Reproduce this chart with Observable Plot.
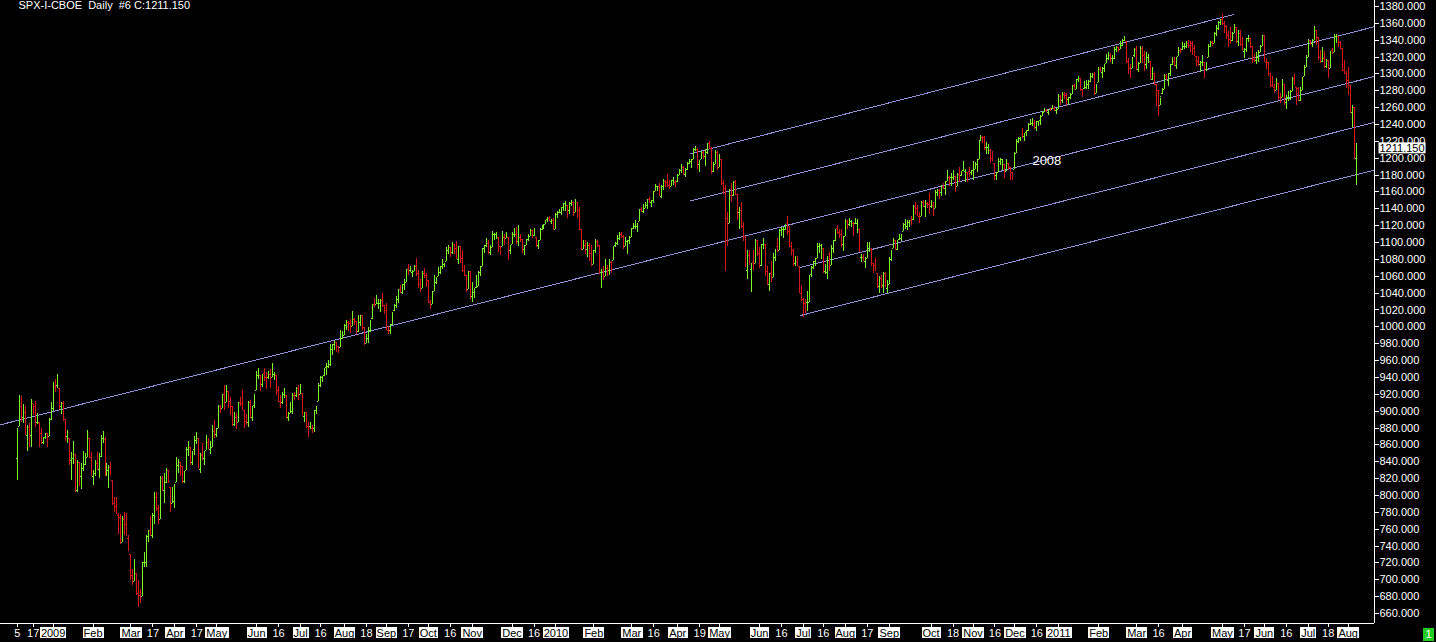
<!DOCTYPE html>
<html><head><meta charset="utf-8">
<script src="https://cdn.jsdelivr.net/npm/d3@7"></script>
<script src="https://cdn.jsdelivr.net/npm/@observablehq/plot@0.6"></script>
<style>
html,body{margin:0;padding:0;background:#000;}
#wrap{position:relative;width:1436px;height:642px;overflow:hidden;background:#000;}
#badge{position:absolute;left:1423px;top:628px;width:11px;height:13px;background:#22cc22;color:#fff;font:11px "Liberation Sans",Arial,sans-serif;text-align:center;line-height:13px;}
</style></head><body><div id="wrap"><div id="badge">1</div></div>
<script>
// Daily OHLC bars: [month-day, open, high, low, close]
const bars2008 = [
["12-05",844,879,818,876],["12-08",882,918,882,909],["12-09",906,917,888,888],["12-10",892,908,885,899],["12-11",898,905,871,873],["12-12",871,883,852,880],["12-15",881,885,857,869],["12-16",871,914,857,913],["12-17",909,908,895,904],["12-18",905,911,881,885],["12-19",886,897,884,888],["12-22",887,887,857,871],["12-23",874,880,860,863],["12-24",863,869,861,869],["12-26",869,874,866,873],["12-29",873,874,857,870],["12-30",870,891,870,890],["12-31",890,910,889,903]
];
const bars2009 = [
["01-02",903,934,899,932],["01-05",929,937,922,927],["01-06",931,944,927,935],["01-07",927,927,902,907],["01-08",905,910,896,910],["01-09",909,912,888,891],["01-12",890,890,864,871],["01-13",870,877,862,872],["01-14",867,867,836,842],["01-15",841,851,818,844],["01-16",844,864,837,851],["01-20",849,849,805,805],["01-21",806,841,804,840],["01-22",839,839,811,828],["01-23",822,838,807,832],["01-26",832,852,828,836],["01-27",837,850,836,845],["01-28",845,877,845,874],["01-29",868,868,844,845],["01-30",845,851,822,826],
["02-02",823,830,812,826],["02-03",826,842,822,838],["02-04",838,851,829,833],["02-05",831,850,820,845],["02-06",846,871,845,869],["02-09",868,876,862,870],["02-10",866,869,822,827],["02-11",827,838,823,833],["02-12",829,836,808,836],["02-13",833,839,824,827],["02-17",818,818,789,789],["02-18",791,797,780,788],["02-19",787,797,777,779],["02-20",776,779,754,770],["02-23",774,777,743,743],["02-24",744,775,744,773],["02-25",771,780,752,765],["02-26",765,779,751,753],["02-27",749,753,734,735],
["03-02",730,730,700,700],["03-03",705,712,693,696],["03-04",698,724,698,713],["03-05",708,708,681,683],["03-06",684,699,667,683],["03-09",681,689,672,677],["03-10",680,720,680,720],["03-11",720,732,714,721],["03-12",720,752,715,751],["03-13",751,758,744,757],["03-16",759,775,753,753],["03-17",753,778,749,778],["03-18",776,803,766,795],["03-19",797,803,781,785],["03-20",784,788,766,769],["03-23",772,823,772,823],["03-24",820,823,805,806],["03-25",806,826,791,814],["03-26",815,832,814,832],["03-27",829,829,814,816],["03-30",809,809,780,788],["03-31",790,810,790,798],
["04-01",793,813,784,811],["04-02",815,845,815,835],["04-03",835,843,826,843],["04-06",839,839,822,835],["04-07",834,834,814,815],["04-08",817,828,814,825],["04-09",829,857,829,857],["04-13",855,864,846,858],["04-14",857,857,836,842],["04-15",839,852,836,852],["04-16",854,870,847,866],["04-17",865,875,860,869],["04-20",868,868,832,832],["04-21",831,850,826,850],["04-22",847,862,841,843],["04-23",844,852,835,851],["04-24",853,871,853,866],["04-27",863,868,854,857],["04-28",854,864,848,855],["04-29",857,883,857,873],["04-30",876,889,868,873],
["05-01",872,880,869,878],["05-04",880,907,880,907],["05-05",906,907,897,903],["05-06",903,920,903,920],["05-07",920,930,901,907],["05-08",910,931,910,929],["05-11",923,923,903,909],["05-12",911,916,895,908],["05-13",905,905,882,883],["05-14",884,898,882,893],["05-15",893,897,878,882],["05-18",886,910,886,910],["05-19",910,916,905,909],["05-20",909,925,901,904],["05-21",901,901,879,888],["05-22",888,896,883,887],["05-26",887,911,881,910],["05-27",910,913,893,893],["05-28",893,906,888,906],["05-29",907,920,903,919],
["06-01",924,947,924,942],["06-02",942,950,938,944],["06-03",942,942,923,932],["06-04",932,943,928,943],["06-05",945,951,935,940],["06-08",940,946,926,939],["06-09",940,947,937,943],["06-10",943,949,927,939],["06-11",940,956,940,944],["06-12",943,946,936,946],["06-15",942,942,919,924],["06-16",925,929,911,911],["06-17",911,918,903,910],["06-18",910,922,908,918],["06-19",920,927,915,921],["06-22",919,919,893,893],["06-23",893,898,888,896],["06-24",897,910,897,900],["06-25",900,921,896,921],["06-26",919,922,913,918],["06-29",919,928,916,927],["06-30",927,931,913,919],
["07-01",920,932,920,924],["07-02",921,921,896,896],["07-06",894,898,886,898],["07-07",898,898,879,881],["07-08",882,886,869,879],["07-09",882,887,878,882],["07-10",880,883,873,879],["07-13",880,901,875,901],["07-14",901,905,896,905],["07-15",911,933,911,933],["07-16",931,941,928,941],["07-17",940,941,934,940],["07-20",942,951,941,951],["07-21",952,956,942,955],["07-22",953,960,950,955],["07-23",955,979,953,977],["07-24",973,979,966,979],["07-27",979,983,972,982],["07-28",981,982,969,979],["07-29",977,977,968,976],["07-30",976,996,976,986],["07-31",986,994,985,987],
["08-03",990,1003,990,1002],["08-04",1001,1007,996,1005],["08-05",1005,1006,994,1002],["08-06",1004,1009,992,997],["08-07",1000,1018,1000,1011],["08-10",1009,1010,1001,1007],["08-11",1006,1006,991,994],["08-12",995,1013,993,1005],["08-13",1005,1013,1000,1012],["08-14",1013,1013,996,1005],["08-17",999,999,978,979],["08-18",980,991,980,990],["08-19",986,999,980,997],["08-20",996,1008,993,1007],["08-21",1010,1027,1009,1026],["08-24",1027,1034,1023,1025],["08-25",1026,1037,1026,1028],["08-26",1028,1032,1021,1029],["08-27",1028,1033,1017,1031],["08-28",1031,1039,1023,1029],["08-31",1025,1025,1015,1021],
["09-01",1019,1028,996,998],["09-02",996,1000,991,995],["09-03",996,1003,991,1003],["09-04",1003,1017,1001,1016],["09-08",1019,1026,1018,1025],["09-09",1025,1036,1022,1033],["09-10",1032,1044,1028,1044],["09-11",1044,1049,1040,1042],["09-14",1041,1050,1038,1050],["09-15",1050,1056,1043,1053],["09-16",1053,1068,1053,1068],["09-17",1068,1074,1061,1065],["09-18",1067,1072,1064,1068],["09-21",1064,1067,1058,1064],["09-22",1066,1073,1066,1071],["09-23",1072,1081,1060,1061],["09-24",1063,1067,1045,1051],["09-25",1050,1056,1041,1045],["09-28",1045,1066,1045,1063],["09-29",1063,1069,1057,1061],["09-30",1061,1063,1047,1057],
["10-01",1055,1055,1029,1029],["10-02",1029,1031,1020,1025],["10-05",1026,1042,1026,1040],["10-06",1042,1061,1042,1054],["10-07",1053,1058,1050,1057],["10-08",1060,1070,1060,1066],["10-09",1065,1072,1062,1072],["10-12",1071,1080,1068,1077],["10-13",1074,1075,1070,1074],["10-14",1078,1094,1078,1093],["10-15",1090,1097,1086,1096],["10-16",1094,1094,1082,1087],["10-19",1088,1100,1086,1098],["10-20",1098,1098,1086,1092],["10-21",1093,1101,1081,1081],["10-22",1080,1095,1074,1093],["10-23",1095,1095,1075,1080],["10-26",1081,1091,1064,1066],["10-27",1067,1073,1060,1063],["10-28",1061,1061,1042,1042],["10-29",1044,1066,1044,1066],["10-30",1066,1066,1033,1036],
["11-02",1036,1053,1029,1042],["11-03",1041,1046,1034,1045],["11-04",1047,1061,1045,1047],["11-05",1048,1066,1048,1066],["11-06",1064,1071,1060,1069],["11-09",1072,1093,1072,1093],["11-10",1093,1096,1087,1093],["11-11",1096,1105,1094,1099],["11-12",1099,1102,1086,1088],["11-13",1088,1097,1085,1093],["11-16",1094,1113,1094,1110],["11-17",1109,1111,1102,1110],["11-18",1110,1112,1104,1110],["11-19",1106,1106,1088,1094],["11-20",1095,1095,1085,1091],["11-23",1095,1113,1095,1106],["11-24",1106,1109,1097,1105],["11-25",1105,1112,1105,1110],["11-27",1106,1106,1079,1091],["11-30",1091,1097,1086,1096],
["12-01",1098,1112,1098,1109],["12-02",1109,1117,1106,1110],["12-03",1110,1118,1098,1099],["12-04",1101,1120,1095,1106],["12-07",1106,1109,1100,1104],["12-08",1104,1104,1087,1092],["12-09",1092,1096,1085,1095],["12-10",1096,1104,1096,1102],["12-11",1104,1109,1101,1106],["12-14",1107,1115,1107,1114],["12-15",1114,1114,1105,1108],["12-16",1108,1117,1107,1110],["12-17",1106,1106,1094,1097],["12-18",1097,1103,1092,1102],["12-21",1102,1117,1102,1114],["12-22",1115,1120,1114,1118],["12-23",1118,1121,1116,1121],["12-24",1121,1126,1121,1126],["12-28",1127,1130,1124,1128],["12-29",1128,1131,1126,1126],["12-30",1125,1127,1121,1126],["12-31",1126,1128,1115,1115]
];
const bars2010 = [
["01-04",1116,1134,1116,1133],["01-05",1133,1137,1129,1137],["01-06",1136,1139,1134,1137],["01-07",1136,1142,1132,1142],["01-08",1141,1146,1137,1145],["01-11",1146,1149,1137,1147],["01-12",1144,1144,1128,1137],["01-13",1138,1148,1133,1146],["01-14",1146,1150,1143,1148],["01-15",1147,1147,1131,1136],["01-19",1136,1151,1136,1150],["01-20",1148,1148,1129,1138],["01-21",1138,1141,1114,1116],["01-22",1115,1115,1090,1092],["01-25",1092,1103,1092,1097],["01-26",1096,1103,1086,1093],["01-27",1092,1100,1082,1097],["01-28",1097,1099,1078,1085],["01-29",1087,1097,1072,1074],
["02-01",1074,1090,1074,1089],["02-02",1090,1104,1087,1103],["02-03",1101,1103,1094,1097],["02-04",1097,1097,1063,1063],["02-05",1064,1068,1045,1066],["02-08",1066,1072,1056,1056],["02-09",1060,1080,1060,1071],["02-10",1069,1073,1060,1068],["02-11",1067,1080,1061,1078],["02-12",1076,1077,1063,1075],["02-16",1079,1095,1079,1095],["02-17",1096,1100,1094,1099],["02-18",1099,1108,1097,1106],["02-19",1105,1112,1102,1109],["02-22",1110,1112,1105,1108],["02-23",1107,1108,1092,1095],["02-24",1095,1106,1095,1105],["02-25",1101,1103,1086,1102],["02-26",1103,1107,1098,1104],
["03-01",1106,1117,1106,1116],["03-02",1117,1123,1116,1118],["03-03",1119,1126,1116,1119],["03-04",1119,1123,1112,1123],["03-05",1125,1139,1125,1139],["03-08",1139,1141,1136,1138],["03-09",1137,1145,1134,1141],["03-10",1140,1148,1140,1146],["03-11",1144,1151,1139,1151],["03-12",1151,1154,1146,1150],["03-15",1148,1150,1141,1150],["03-16",1150,1160,1146,1160],["03-17",1160,1169,1160,1166],["03-18",1166,1167,1161,1166],["03-19",1166,1170,1155,1160],["03-22",1155,1168,1152,1166],["03-23",1166,1175,1162,1174],["03-24",1172,1173,1166,1167],["03-25",1171,1181,1165,1166],["03-26",1168,1174,1163,1167],["03-29",1167,1174,1167,1173],["03-30",1174,1177,1168,1174],["03-31",1171,1174,1165,1169],
["04-01",1172,1181,1171,1178],["04-05",1179,1187,1179,1187],["04-06",1186,1192,1182,1190],["04-07",1189,1190,1180,1182],["04-08",1181,1188,1177,1187],["04-09",1187,1195,1185,1194],["04-12",1194,1199,1193,1197],["04-13",1196,1199,1188,1197],["04-14",1198,1210,1198,1211],["04-15",1210,1214,1208,1212],["04-16",1210,1211,1187,1192],["04-19",1192,1197,1183,1197],["04-20",1199,1208,1199,1207],["04-21",1207,1208,1199,1205],["04-22",1202,1210,1190,1208],["04-23",1207,1217,1205,1217],["04-26",1218,1220,1211,1212],["04-27",1212,1213,1181,1183],["04-28",1184,1195,1183,1192],["04-29",1193,1209,1193,1206],["04-30",1207,1208,1186,1187],
["05-03",1189,1205,1189,1202],["05-04",1198,1198,1168,1173],["05-05",1170,1174,1157,1166],["05-06",1164,1168,1066,1128],["05-07",1128,1136,1095,1110],["05-10",1123,1163,1123,1160],["05-11",1156,1170,1147,1155],["05-12",1156,1172,1155,1171],["05-13",1171,1173,1156,1157],["05-14",1157,1157,1126,1136],["05-17",1136,1141,1115,1136],["05-18",1138,1148,1117,1120],["05-19",1119,1124,1101,1115],["05-20",1107,1107,1071,1072],["05-21",1067,1090,1056,1088],["05-24",1085,1090,1073,1074],["05-25",1068,1075,1041,1074],["05-26",1076,1090,1067,1068],["05-27",1075,1104,1075,1103],["05-28",1102,1102,1084,1089],
["06-01",1087,1094,1069,1071],["06-02",1073,1098,1072,1098],["06-03",1098,1105,1092,1103],["06-04",1098,1098,1060,1065],["06-07",1066,1072,1050,1050],["06-08",1050,1063,1042,1062],["06-09",1063,1077,1052,1055],["06-10",1059,1087,1059,1087],["06-11",1082,1092,1077,1091],["06-14",1095,1105,1089,1089],["06-15",1091,1115,1091,1115],["06-16",1114,1118,1107,1114],["06-17",1115,1118,1105,1116],["06-18",1116,1121,1114,1118],["06-21",1122,1131,1108,1113],["06-22",1113,1119,1094,1095],["06-23",1095,1100,1085,1092],["06-24",1091,1092,1072,1074],["06-25",1075,1083,1071,1076],["06-28",1077,1083,1071,1074],["06-29",1071,1071,1041,1041],["06-30",1040,1049,1030,1031],
["07-01",1032,1034,1011,1027],["07-02",1028,1032,1016,1023],["07-06",1029,1042,1018,1029],["07-07",1029,1061,1029,1060],["07-08",1062,1072,1058,1070],["07-09",1070,1078,1068,1078],["07-12",1077,1081,1071,1079],["07-13",1081,1099,1081,1095],["07-14",1095,1099,1087,1096],["07-15",1096,1098,1080,1096],["07-16",1093,1093,1063,1065],["07-19",1066,1074,1062,1072],["07-20",1065,1084,1056,1084],["07-21",1086,1088,1066,1069],["07-22",1073,1097,1073,1094],["07-23",1093,1103,1087,1103],["07-26",1103,1115,1101,1115],["07-27",1117,1120,1109,1113],["07-28",1112,1115,1105,1107],["07-29",1109,1115,1094,1101],["07-30",1098,1107,1089,1102],
["08-02",1107,1127,1107,1125],["08-03",1125,1126,1116,1120],["08-04",1121,1128,1119,1128],["08-05",1125,1126,1118,1126],["08-06",1123,1124,1107,1122],["08-09",1123,1129,1121,1128],["08-10",1122,1127,1111,1122],["08-11",1116,1116,1088,1090],["08-12",1082,1086,1076,1083],["08-13",1082,1086,1079,1079],["08-16",1077,1082,1069,1080],["08-17",1081,1100,1081,1093],["08-18",1093,1100,1088,1095],["08-19",1092,1093,1071,1075],["08-20",1075,1075,1063,1071],["08-23",1073,1081,1067,1067],["08-24",1063,1063,1046,1051],["08-25",1048,1060,1039,1055],["08-26",1057,1061,1045,1047],["08-27",1049,1065,1039,1065],["08-30",1063,1064,1048,1048],["08-31",1046,1055,1040,1049],
["09-01",1050,1082,1050,1081],["09-02",1080,1090,1077,1090],["09-03",1093,1105,1093,1104],["09-07",1102,1102,1091,1092],["09-08",1092,1103,1091,1099],["09-09",1104,1110,1103,1104],["09-10",1105,1110,1101,1110],["09-13",1113,1123,1113,1122],["09-14",1121,1127,1115,1121],["09-15",1119,1126,1114,1126],["09-16",1124,1126,1118,1125],["09-17",1126,1131,1120,1125],["09-20",1127,1144,1126,1143],["09-21",1143,1148,1132,1140],["09-22",1140,1144,1131,1135],["09-23",1131,1136,1122,1125],["09-24",1131,1149,1131,1148],["09-27",1148,1150,1142,1143],["09-28",1143,1150,1130,1147],["09-29",1146,1148,1140,1144],["09-30",1145,1158,1133,1141],
["10-01",1143,1150,1140,1147],["10-04",1144,1148,1131,1137],["10-05",1140,1162,1140,1160],["10-06",1159,1163,1155,1160],["10-07",1162,1163,1151,1159],["10-08",1159,1168,1155,1166],["10-11",1166,1170,1163,1165],["10-12",1164,1172,1156,1170],["10-13",1172,1185,1172,1179],["10-14",1177,1178,1166,1174],["10-15",1177,1182,1166,1177],["10-18",1177,1185,1174,1184],["10-19",1178,1178,1159,1166],["10-20",1167,1182,1167,1179],["10-21",1181,1189,1171,1180],["10-22",1180,1184,1178,1183],["10-25",1185,1196,1184,1185],["10-26",1184,1187,1171,1185],["10-27",1183,1183,1171,1182],["10-28",1184,1189,1177,1183],["10-29",1183,1186,1180,1183],
["11-01",1185,1196,1174,1185],["11-02",1187,1195,1187,1193],["11-03",1193,1198,1183,1198],["11-04",1198,1221,1198,1221],["11-05",1221,1227,1220,1226],["11-08",1224,1226,1218,1223],["11-09",1224,1226,1209,1213],["11-10",1213,1219,1204,1219],["11-11",1213,1216,1204,1214],["11-12",1209,1210,1194,1199],["11-15",1200,1208,1197,1197],["11-16",1194,1194,1174,1178],["11-17",1179,1183,1173,1179],["11-18",1183,1200,1183,1197],["11-19",1196,1200,1191,1199],["11-22",1198,1198,1185,1198],["11-23",1192,1192,1176,1181],["11-24",1184,1199,1184,1198],["11-26",1194,1194,1186,1189],["11-29",1189,1189,1174,1187],["11-30",1183,1183,1173,1181],
["12-01",1187,1207,1187,1206],["12-02",1206,1222,1206,1221],["12-03",1220,1225,1217,1224],["12-06",1223,1225,1220,1223],["12-07",1228,1235,1223,1224],["12-08",1226,1229,1220,1228],["12-09",1230,1233,1226,1233],["12-10",1233,1241,1232,1240],["12-13",1240,1246,1240,1240],["12-14",1241,1247,1238,1242],["12-15",1241,1245,1234,1235],["12-16",1236,1243,1232,1242],["12-17",1243,1244,1238,1243],["12-20",1245,1251,1239,1247],["12-21",1249,1255,1249,1254],["12-22",1254,1259,1254,1258],["12-23",1257,1258,1254,1256],["12-27",1254,1258,1251,1258],["12-28",1259,1259,1256,1258],["12-29",1259,1263,1258,1260],["12-30",1259,1261,1255,1257],["12-31",1257,1259,1252,1258]
];
const bars2011 = [
["01-03",1258,1276,1258,1272],["01-04",1273,1274,1262,1270],["01-05",1269,1278,1265,1276],["01-06",1276,1278,1270,1273],["01-07",1274,1277,1262,1272],["01-10",1270,1272,1262,1270],["01-11",1272,1277,1270,1275],["01-12",1276,1286,1276,1286],["01-13",1286,1287,1281,1283],["01-14",1282,1293,1281,1293],["01-18",1293,1297,1290,1296],["01-19",1294,1295,1279,1281],["01-20",1281,1281,1272,1280],["01-21",1283,1291,1282,1283],["01-24",1284,1292,1282,1291],["01-25",1288,1292,1281,1292],["01-26",1291,1300,1290,1296],["01-27",1297,1301,1294,1299],["01-28",1299,1302,1275,1276],["01-31",1277,1287,1277,1286],
["02-01",1290,1308,1290,1307],["02-02",1305,1308,1302,1304],["02-03",1302,1308,1295,1307],["02-04",1307,1311,1302,1311],["02-07",1312,1323,1312,1320],["02-08",1318,1325,1316,1324],["02-09",1322,1324,1314,1321],["02-10",1318,1322,1311,1321],["02-11",1318,1331,1317,1329],["02-14",1329,1333,1326,1332],["02-15",1331,1331,1325,1328],["02-16",1329,1338,1329,1336],["02-17",1334,1341,1333,1340],["02-18",1340,1344,1338,1343],["02-22",1338,1338,1312,1315],["02-23",1315,1318,1299,1307],["02-24",1307,1311,1294,1306],["02-25",1307,1320,1307,1320],["02-28",1322,1330,1320,1327],
["03-01",1329,1332,1304,1305],["03-02",1305,1314,1302,1308],["03-03",1312,1332,1312,1331],["03-04",1330,1332,1312,1321],["03-07",1322,1327,1303,1310],["03-08",1311,1326,1305,1322],["03-09",1319,1323,1312,1320],["03-10",1315,1315,1294,1295],["03-11",1293,1308,1292,1304],["03-14",1301,1301,1286,1296],["03-15",1288,1288,1261,1281],["03-16",1280,1280,1249,1257],["03-17",1262,1271,1262,1273],["03-18",1277,1283,1276,1279],["03-21",1282,1299,1282,1298],["03-22",1298,1299,1292,1293],["03-23",1292,1300,1285,1297],["03-24",1300,1311,1297,1309],["03-25",1311,1319,1310,1314],["03-28",1315,1319,1310,1310],["03-29",1310,1320,1305,1320],["03-30",1321,1331,1321,1328],["03-31",1328,1330,1325,1326],
["04-01",1329,1337,1328,1332],["04-04",1333,1336,1329,1333],["04-05",1332,1338,1330,1333],["04-06",1336,1340,1330,1335],["04-07",1334,1338,1326,1333],["04-08",1336,1339,1322,1329],["04-11",1330,1334,1321,1324],["04-12",1321,1321,1309,1314],["04-13",1315,1321,1309,1314],["04-14",1311,1315,1302,1314],["04-15",1314,1322,1309,1320],["04-18",1313,1313,1295,1305],["04-19",1305,1313,1303,1313],["04-20",1320,1335,1320,1331],["04-21",1333,1338,1331,1338],["04-25",1337,1338,1333,1335],["04-26",1336,1349,1336,1347],["04-27",1348,1358,1344,1356],["04-28",1354,1362,1352,1360],["04-29",1361,1364,1358,1364],
["05-02",1365,1371,1358,1361],["05-03",1360,1362,1348,1357],["05-04",1356,1357,1341,1348],["05-05",1346,1350,1331,1336],["05-06",1341,1355,1335,1340],["05-09",1340,1349,1338,1347],["05-10",1348,1359,1348,1357],["05-11",1355,1355,1336,1342],["05-12",1339,1351,1332,1348],["05-13",1348,1351,1333,1338],["05-16",1335,1343,1327,1330],["05-17",1327,1330,1318,1329],["05-18",1329,1342,1326,1340],["05-19",1342,1346,1337,1344],["05-20",1342,1342,1330,1333],["05-23",1333,1333,1312,1317],["05-24",1317,1323,1313,1316],["05-25",1316,1326,1311,1320],["05-26",1320,1328,1314,1325],["05-27",1326,1334,1325,1331],["05-31",1332,1346,1332,1345],
["06-01",1345,1345,1313,1315],["06-02",1314,1318,1305,1313],["06-03",1313,1313,1297,1300],["06-06",1300,1300,1284,1286],["06-07",1286,1297,1284,1285],["06-08",1284,1288,1277,1280],["06-09",1280,1295,1280,1290],["06-10",1289,1289,1268,1271],["06-13",1272,1277,1265,1271],["06-14",1272,1293,1272,1288],["06-15",1287,1287,1262,1266],["06-16",1266,1274,1258,1268],["06-17",1272,1279,1267,1272],["06-20",1272,1280,1268,1278],["06-21",1279,1296,1279,1296],["06-22",1295,1299,1286,1287],["06-23",1284,1284,1262,1283],["06-24",1283,1284,1267,1268],["06-27",1268,1284,1267,1280],["06-28",1280,1296,1280,1296],["06-29",1297,1310,1297,1307],["06-30",1308,1322,1308,1321],
["07-01",1320,1341,1319,1340],["07-05",1340,1340,1334,1337],["07-06",1336,1341,1331,1339],["07-07",1340,1356,1340,1353],["07-08",1352,1352,1334,1344],["07-11",1343,1343,1316,1320],["07-12",1320,1328,1313,1314],["07-13",1315,1331,1314,1317],["07-14",1318,1327,1306,1309],["07-15",1309,1317,1307,1316],["07-18",1316,1316,1295,1306],["07-19",1307,1327,1307,1327],["07-20",1328,1330,1323,1325],["07-21",1325,1347,1325,1344],["07-22",1344,1347,1336,1346],["07-25",1344,1344,1331,1337],["07-26",1337,1339,1329,1331],["07-27",1330,1330,1303,1305],["07-28",1304,1316,1299,1301],["07-29",1300,1303,1283,1292],
["08-01",1292,1308,1275,1287],["08-02",1286,1286,1254,1254],["08-03",1254,1262,1237,1260],["08-04",1260,1260,1199,1200],["08-05",1200,1218,1168,1211.15]
];

// x-axis tick dates and their labels
const tickDates = ["2008-12-05","2008-12-17","2009-01-02","2009-02-02","2009-03-02","2009-03-17","2009-04-01","2009-04-17","2009-05-01","2009-06-01","2009-06-16","2009-07-01","2009-07-16","2009-08-03","2009-08-18","2009-09-01","2009-09-17","2009-10-01","2009-10-16","2009-11-02","2009-12-01","2009-12-16","2010-01-04","2010-02-01","2010-03-01","2010-03-16","2010-04-01","2010-04-19","2010-05-03","2010-06-01","2010-06-16","2010-07-01","2010-07-16","2010-08-02","2010-08-17","2010-09-01","2010-10-01","2010-10-18","2010-11-01","2010-11-16","2010-12-01","2010-12-16","2011-01-03","2011-02-01","2011-03-01","2011-03-16","2011-04-01","2011-05-02","2011-05-17","2011-06-01","2011-06-16","2011-07-01","2011-07-18","2011-08-01"];
const tickLabels = ["5","17","2009","Feb","Mar","17","Apr","17","May","Jun","16","Jul","16","Aug","18","Sep","17","Oct","16","Nov","Dec","16","2010","Feb","Mar","16","Apr","19","May","Jun","16","Jul","16","Aug","17","Sep","Oct","18","Nov","16","Dec","16","2011","Feb","Mar","16","Apr","May","17","Jun","16","Jul","18","Aug"];
const inverseLabels = ["2009","2010","2011","Jan","Feb","Mar","Apr","May","Jun","Jul","Aug","Sep","Oct","Nov","Dec"];

// y-axis ticks
const yTicks = d3.range(660, 1381, 20);

// channel lines, as [bar index, price] endpoints
const channelStart = [[337.4,1205.3],[337.4,1149.3],[-8.4,883.8],[392.5,1070.4],[392.5,1013.4]];
const channelEnd   = [[609.7,1370.5],[680.2,1356.0],[680.2,1297.0],[680.2,1242.5],[680.2,1186.0]];

// annotation
const noteDate = "2010-12-23", notePrice = 1197, noteText = "2008";
const titleText = "SPX-I-CBOE\u00a0 Daily\u00a0 #6 C:1211.150";

const GREEN = "#7cf52a", RED = "#d81818", LINE = "#9090d6";

const rows = [];
for (const [yr, arr] of [["2008", bars2008], ["2009", bars2009], ["2010", bars2010], ["2011", bars2011]])
  for (const [md, o, h, l, c] of arr) rows.push({date: yr + "-" + md, open: o, high: h, low: l, close: c});
rows.forEach((d, i) => { d.i = i; d.up = d.close >= d.open; });
const idx = new Map(rows.map(d => [d.date, d.i]));
const up = rows.filter(d => d.up), down = rows.filter(d => !d.up);
const last = rows[rows.length - 1];
const tickIdx = tickDates.map(d => idx.get(d));
const labelOf = new Map(tickIdx.map((t, k) => [t, tickLabels[k]]));
const channels = channelStart.map((s, k) => ({x1: s[0], y1: s[1], x2: channelEnd[k][0], y2: channelEnd[k][1]}));

const xDomain = [-8.37, 680.2], yDomain = [648.1, 1387.1];
const crisp = {shapeRendering: "crispEdges"};

function barMarks(data, color) {
  return [
    Plot.ruleX(data, {x: "i", y1: "low", y2: "high", stroke: color, strokeWidth: 1, ...crisp}),
    Plot.ruleY(data, {y: "open", x1: d => d.i - 0.5, x2: "i", stroke: color, ...crisp}),
    Plot.ruleY(data, {y: "close", x1: "i", x2: d => d.i + 0.5, stroke: color, ...crisp})
  ];
}

const plot = Plot.plot({
  width: 1436, height: 642,
  marginLeft: 0, marginRight: 62, marginTop: 0, marginBottom: 19,
  style: {background: "#000", color: "#fff", fontFamily: "'Liberation Sans', Arial, sans-serif", fontSize: "11px"},
  x: {domain: xDomain},
  y: {domain: yDomain},
  marks: [
    Plot.link(channels, {x1: "x1", y1: "y1", x2: "x2", y2: "y2", stroke: LINE, strokeWidth: 1, ...crisp}),
    ...barMarks(up, GREEN),
    ...barMarks(down, RED),
    Plot.text([noteText], {x: idx.get(noteDate), y: notePrice, text: d => d, fill: "#fff", fontSize: 13, textAnchor: "middle"}),
    Plot.ruleX([xDomain[1]], {stroke: "#fff", ...crisp}),
    Plot.ruleY([yDomain[0]], {stroke: "#fff", ...crisp}),
    Plot.axisY({anchor: "right", ticks: yTicks, tickSize: 4, tickPadding: 1, tickFormat: d => d.toFixed(3), fontSize: 11, label: null, ...crisp}),
    Plot.axisX({anchor: "bottom", ticks: tickIdx, tickSize: 4, tickPadding: 2, tickFormat: t => labelOf.get(t), fontSize: 11, label: null, ...crisp}),
    Plot.text([last.close], {y: d => d, frameAnchor: "right", text: d => d.toFixed(3), textAnchor: "start", dx: 5, fill: "#000", fontSize: 11}),
    Plot.text([titleText], {frameAnchor: "top-left", text: d => d, textAnchor: "start", dx: 18, dy: 1, fill: "#fff", fontSize: 11})
  ]
});

const wrap = document.getElementById("wrap");
wrap.insertBefore(plot, wrap.firstChild);

const inverse = new Set([...inverseLabels, last.close.toFixed(3)]);
plot.querySelectorAll("text").forEach(t => {
  if (!inverse.has(t.textContent)) return;
  const b = t.getBBox();
  const r = document.createElementNS("http://www.w3.org/2000/svg", "rect");
  r.setAttribute("x", b.x - 1);
  r.setAttribute("y", b.y);
  r.setAttribute("width", b.width + 2);
  r.setAttribute("height", b.height - 1);
  r.setAttribute("fill", "#fff");
  r.setAttribute("stroke", "none");
  if (t.getAttribute("transform")) r.setAttribute("transform", t.getAttribute("transform"));
  t.parentNode.insertBefore(r, t);
  t.setAttribute("fill", "#000");
});
</script>
</body></html>
